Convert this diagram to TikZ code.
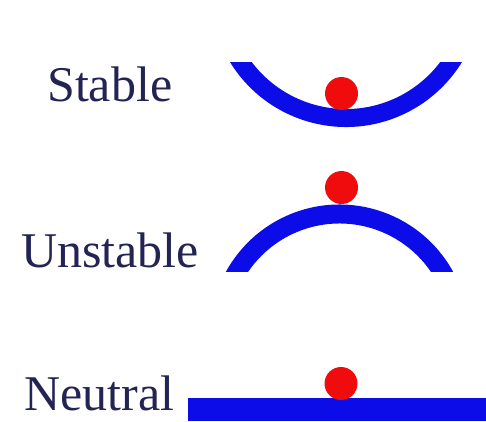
\documentclass[tikz,border=0pt]{standalone}
\usepackage{fontspec}
\setmainfont{Liberation Serif}
\usepackage{tikz}
\definecolor{labelnavy}{RGB}{36,36,84}
\definecolor{trackblue}{RGB}{12,12,232}
\definecolor{ballred}{RGB}{240,12,12}

\begin{document}
\begin{tikzpicture}[x=1pt, y=1pt,
  lbl/.style={anchor=base west, inner sep=0pt, text=labelnavy, font=\fontsize{50}{60}\selectfont},
  ball/.style={circle, fill=ballred, minimum size=33pt, inner sep=0pt},
  track/.style={draw=trackblue, line width=18pt}]
\useasboundingbox (0,0) rectangle (486,421);
% labels
\node[lbl] (st) at (47,319) {Stable};
\node[lbl] (un) at (21,154) {Unstable};
\node[lbl] (ne) at (24,11) {Neutral};
% stable: bowl
\begin{scope}
  \clip (0,0) rectangle (486,358);
  \draw[track] (346,430) ++(205:127) arc[start angle=205, end angle=335, radius=127];
\end{scope}
\node[ball] (bs) at (341.5,327.5) {};
% unstable: hump
\begin{scope}
  \clip (0,150) rectangle (486,421);
  \draw[track, line width=19pt] (339.5,87) ++(20:120) arc[start angle=20, end angle=160, radius=120];
\end{scope}
\node[ball] (bu) at (341.5,233.5) {};
% neutral: flat
\fill[trackblue] (188,0) rectangle (486,23);
\node[ball] (bn) at (341,37.5) {};
\end{tikzpicture}
\end{document}
